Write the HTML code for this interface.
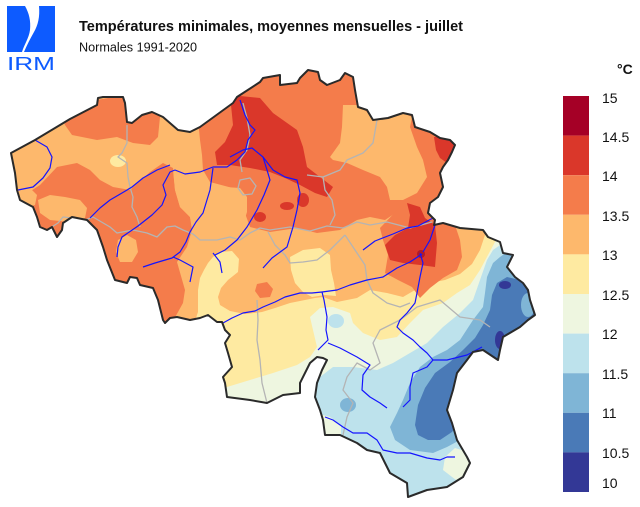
<!DOCTYPE html>
<html><head><meta charset="utf-8"><style>
html,body{margin:0;padding:0;background:#fff;}
svg{display:block;}
text{font-family:"Liberation Sans",Arial,sans-serif;}
</style></head><body>
<svg width="640" height="507" viewBox="0 0 640 507" xmlns="http://www.w3.org/2000/svg">
<defs>
<clipPath id="be"><path id="bp" d="M11,153 L35,140 L70,119 L97,105 L98,98 L103,97 L123,97 L125,103 L127,122 L132,123 L142,115 L152,112 L163,117 L178,130 L190,132 L200,127 L233,103 L237,97 L260,82 L263,78 L280,75 L280,85 L297,83 L300,78 L308,70 L318,72 L320,80 L327,85 L340,80 L345,73 L353,77 L355,90 L358,107 L367,110 L373,120 L388,118 L403,113 L412,115 L415,127 L430,132 L440,138 L450,140 L455,145 L452,152 L448,160 L443,167 L440,173 L443,187 L438,197 L430,203 L428,213 L435,220 L434,225 L443,223 L460,228 L483,230 L488,237 L500,242 L503,253 L513,255 L507,267 L515,277 L523,283 L528,290 L530,300 L535,315 L528,320 L520,327 L503,337 L500,350 L498,360 L483,350 L473,352 L467,360 L457,373 L453,390 L447,410 L452,423 L457,440 L467,457 L470,463 L463,477 L447,487 L427,490 L408,497 L407,483 L390,473 L385,463 L380,453 L367,450 L357,443 L340,435 L325,435 L323,420 L320,410 L315,397 L317,383 L322,370 L327,360 L323,358 L317,357 L310,363 L300,383 L300,393 L283,395 L267,403 L250,400 L227,397 L225,383 L223,377 L232,367 L228,353 L225,343 L230,335 L225,330 L222,322 L217,322 L208,315 L200,318 L190,320 L177,317 L170,318 L165,323 L163,320 L158,300 L153,288 L140,285 L137,278 L130,277 L127,283 L115,280 L107,260 L103,247 L97,230 L87,220 L72,217 L63,223 L62,230 L57,237 L52,227 L47,230 L40,227 L37,217 L33,207 L20,200 L17,190 L15,173 Z"/></clipPath>
</defs>

<!-- Logo -->
<path d="M7,6 H25 C29,13 31,21 30,30 C29,38 24,45 22,52 H7 Z" fill="#0d5bff"/>
<path d="M39,6 H55 V52 H24 C27,45 30,39 34,32 C38,25 40,17 39,6 Z" fill="#0d5bff"/>
<text x="7" y="70" font-size="18" fill="#0d5bff" textLength="48" lengthAdjust="spacingAndGlyphs">IRM</text>

<!-- Titles -->
<text x="79" y="31" font-size="15" font-weight="bold" fill="#111" textLength="384" lengthAdjust="spacingAndGlyphs">Températures minimales, moyennes mensuelles - juillet</text>
<text x="79" y="51.5" font-size="13" fill="#111" textLength="118" lengthAdjust="spacingAndGlyphs">Normales 1991-2020</text>

<!-- Map fills -->
<g clip-path="url(#be)">
<rect x="0" y="50" width="560" height="457" fill="#fdb86c"/>
<!-- dark orange -->
<g fill="#f47c4b">
<polygon points="60,110 97,100 125,95 127,122 132,123 142,112 160,112 160,117 158,137 150,145 133,143 117,137 97,140 72,135 65,125"/>
<polygon points="57,167 77,163 90,170 100,180 113,187 130,190 150,172 163,163 173,168 175,190 180,207 190,217 192,230 187,247 177,262 185,290 183,303 168,330 100,300 50,250 0,220 0,200 20,198 40,185"/>
<polygon points="197,95 200,60 470,60 470,205 445,215 420,215 400,210 385,220 370,217 357,220 340,230 317,233 297,228 270,232 250,227 242,205 240,190 225,186 210,182 203,170 202,155 200,140 198,120"/>
</g>
<!-- light orange holes -->
<g fill="#fdb86c">
<polygon points="38,200 50,195 65,197 80,200 87,208 85,218 70,222 50,220 40,213"/>
<polygon points="15,190 30,188 37,195 35,205 22,208 14,203"/>
<polygon points="118,240 127,235 136,240 138,252 132,262 120,262 116,252"/>
<polygon points="343,105 358,105 367,112 373,120 390,118 403,113 412,117 410,127 417,147 423,160 427,177 417,193 403,200 390,200 387,187 380,177 363,170 347,163 333,160 330,157 340,143 342,127"/>
<polygon points="173,170 185,172 197,178 210,184 225,187 240,188 247,197 247,212 243,225 235,235 215,240 195,238 190,217 180,207 175,190"/>
</g>
<!-- yellow -->
<g fill="#feeaa1">
<ellipse cx="118" cy="161" rx="8" ry="6"/>
<polygon points="290,257 303,250 320,248 330,255 331,270 334,283 336,296 325,295 312,297 303,292 295,283 291,270"/>
<polygon points="198,312 198,290 200,278 204,270 208,263 213,257 220,252 232,251 239,259 238,272 228,280 221,288 218,297 220,305 230,311 245,314 262,312 275,308 290,303 305,300 315,298 323,297 337,302 357,298 370,290 387,293 403,297 415,290 430,283 445,280 460,274 472,264 480,250 485,235 490,222 560,215 560,510 190,510 192,330"/>
</g>
<!-- dark orange Liège + spot -->
<g fill="#f47c4b">
<polygon points="380,228 400,207 420,205 445,212 455,225 460,240 462,257 457,270 443,278 430,288 420,298 412,287 398,280 385,273 388,255 383,240"/>
<polygon points="257,284 267,282 273,289 270,297 260,298 255,291"/>
</g>
<!-- red -->
<g fill="#da372a">
<polygon points="230,95 260,98 273,113 297,130 303,147 307,167 320,177 333,187 327,197 315,193 300,185 285,178 270,172 250,168 230,165 217,165 215,152 225,142 233,125"/>
<ellipse cx="303" cy="200" rx="6" ry="7"/>
<ellipse cx="287" cy="206" rx="7" ry="4"/>
<ellipse cx="260" cy="217" rx="6" ry="5"/>
<polygon points="434,137 447,136 456,142 456,160 447,163 440,158 436,150"/>
<polygon points="407,203 420,207 425,218 435,225 437,243 435,267 420,265 403,263 390,260 385,245 395,235 408,228 410,215"/>
</g>
<ellipse cx="421" cy="254" rx="4" ry="4" fill="#b01a2a"/>
<!-- cool bands -->
<polygon fill="#eef6e0" points="212,392 227,387 250,380 273,373 297,365 310,357 317,347 313,330 310,317 320,308 333,307 350,313 353,323 363,333 380,340 397,337 410,323 423,310 443,303 457,293 470,285 480,270 488,255 495,242 505,232 560,230 560,510 200,510 200,400"/>
<ellipse cx="336" cy="321" rx="8" ry="7" fill="#bde2ec"/>
<polygon fill="#bde2ec" points="305,382 320,377 333,367 353,367 377,370 393,363 410,353 427,343 443,327 460,313 473,300 480,280 487,260 493,250 503,243 560,240 560,510 300,510"/>
<polygon fill="#7fb5d6" points="390,427 397,413 403,400 410,383 420,367 433,357 447,350 460,340 473,320 483,307 485,293 487,277 493,263 500,257 507,252 560,250 560,430 460,440 447,447 433,453 410,450 395,440"/>
<ellipse cx="348" cy="405" rx="8" ry="7" fill="#7fb5d6"/>
<polygon fill="#4a7ab7" points="415,425 418,405 425,388 435,373 450,362 463,350 475,338 483,325 490,310 492,295 497,283 507,277 520,280 560,285 560,400 462,418 452,432 440,440 428,440 418,435"/>
<ellipse cx="528" cy="305" rx="7" ry="12" fill="#7fb5d6"/>
<ellipse cx="505" cy="285" rx="6" ry="4" fill="#333896"/>
<ellipse cx="500" cy="340" rx="5" ry="9" fill="#333896"/>
<polygon fill="#eef6e0" points="316,413 330,417 341,425 341,438 320,438"/>
<polygon fill="#eef6e0" points="445,457 455,448 468,452 474,470 456,480 443,470"/>

<!-- province borders -->
<g fill="none" stroke="#b4b4b4" stroke-width="1.3" stroke-linejoin="round">
<polyline points="50,228 58,223 63,217 72,218 75,224 93,217 110,227 117,233 133,230 147,233 157,237 167,227 175,226 183,230 193,234 200,240 217,240 230,237 240,240 250,233 260,228 270,230 290,227 310,231 327,226 343,228 357,222 370,225 387,222 410,228 432,222"/>
<polyline points="127,125 127,143 122,153 118,157 127,163 128,177 130,187 133,197 132,207 137,217 140,227"/>
<polyline points="243,103 247,118 250,135 247,150 240,160 242,172"/>
<polyline points="377,120 373,143 363,153 347,160 340,170 323,177 307,175"/>
<polyline points="323,177 325,190 332,200 335,215 330,225"/>
<polygon points="240,180 250,178 256,186 252,194 243,195 238,188"/>
<polyline points="268,232 275,245 285,255 290,263 303,262 317,260 330,250 345,235"/>
<polyline points="257,300 258,320 257,340 260,360 262,383 267,403"/>
<polyline points="345,235 355,250 365,265 367,280 373,293 387,303 400,307 410,303"/>
<polyline points="343,435 347,417 353,403 343,390 347,377 357,363 370,370 380,363 373,343 380,330 400,320 417,307 440,300 460,317 480,320 490,327"/>
</g>

<!-- rivers -->
<g fill="none" stroke="#1414ff" stroke-width="1.2" stroke-linejoin="round">
<polyline points="35,140 47,147 52,157 50,168 43,178 33,187 18,190"/>
<polyline points="90,218 100,208 110,200 122,193 132,187 143,178 157,170 170,165"/>
<polyline points="117,257 118,247 122,237 138,226 152,215 162,205 166,195 163,185 170,172 175,170"/>
<polyline points="175,170 185,174 200,172 213,167 227,167 237,160 245,152 248,140 255,130 250,125 245,115 240,100"/>
<polyline points="213,168 210,190 203,213 196,222 190,232 186,242 180,252 172,258 155,263 143,267"/>
<polyline points="173,257 180,260 193,267 190,282"/>
<polyline points="230,157 243,150 252,148 263,157 267,170 270,180 264,195 257,210 247,227 237,240 225,250 215,255"/>
<polyline points="263,157 273,170 285,177 297,180 300,193 297,210 293,227 287,247 272,258 263,268"/>
<polyline points="363,250 375,241 393,234 407,228 418,226 433,218"/>
<polyline points="423,252 430,240 435,225 436,215"/>
<polyline points="213,253 220,262 222,273"/>
<polyline points="223,323 232,318 243,313 255,311 263,307 275,302 285,297 300,293 312,293 322,292"/>
<polyline points="322,292 337,290 350,285 367,280 383,277 397,268 410,262 422,254"/>
<polyline points="322,292 324,300 327,317 326,330 328,340 323,345 318,350"/>
<polyline points="328,343 340,348 357,357 370,365 363,375 362,390 370,397 380,403 387,408"/>
<polyline points="420,253 423,263 420,277 417,293 415,303 407,313 400,320 397,327 403,333 413,340 420,347 427,353 433,360 447,360 467,355 482,347"/>
<polyline points="433,360 427,367 413,373 410,387 410,400 403,407"/>
<polyline points="325,417 333,420 343,427 353,433 367,433 377,440 383,450 397,453 410,453 427,458 440,460 447,457 455,457"/>
</g>
</g>
<use href="#bp" fill="none" stroke="#2a2a2a" stroke-width="2" stroke-linejoin="round"/>

<!-- Legend -->
<rect x="563" y="96" width="26" height="39.6" fill="#a50026"/>
<rect x="563" y="135.6" width="26" height="39.6" fill="#da372a"/>
<rect x="563" y="175.2" width="26" height="39.6" fill="#f47c4b"/>
<rect x="563" y="214.8" width="26" height="39.6" fill="#fdb86c"/>
<rect x="563" y="254.4" width="26" height="39.6" fill="#feeaa1"/>
<rect x="563" y="294" width="26" height="39.6" fill="#eef6e0"/>
<rect x="563" y="333.6" width="26" height="39.6" fill="#bde2ec"/>
<rect x="563" y="373.2" width="26" height="39.6" fill="#7fb5d6"/>
<rect x="563" y="412.8" width="26" height="39.6" fill="#4a7ab7"/>
<rect x="563" y="452.4" width="26" height="39.6" fill="#333896"/>
<g font-size="14" fill="#111">
<text x="602" y="103">15</text>
<text x="602" y="142">14.5</text>
<text x="602" y="181">14</text>
<text x="602" y="221">13.5</text>
<text x="602" y="260">13</text>
<text x="602" y="300">12.5</text>
<text x="602" y="339">12</text>
<text x="602" y="379">11.5</text>
<text x="602" y="418">11</text>
<text x="602" y="458">10.5</text>
<text x="602" y="488">10</text>
</g>
<text x="617" y="74" font-size="14" font-weight="bold" fill="#111">°C</text>
</svg>
</body></html>
